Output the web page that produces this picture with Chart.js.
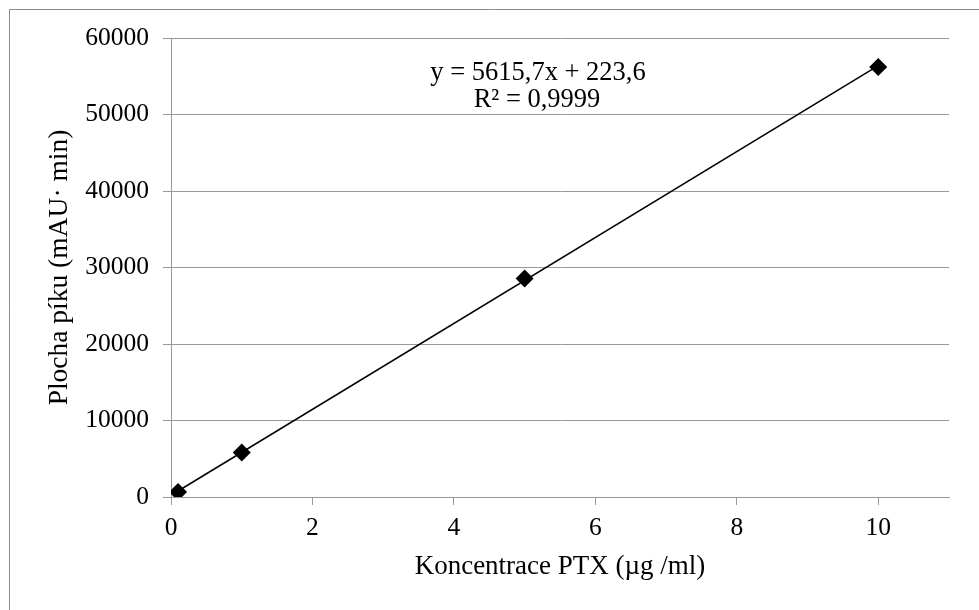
<!DOCTYPE html>
<html>
<head>
<meta charset="utf-8">
<title>Kalibrační křivka PTX</title>
<script src="https://cdn.jsdelivr.net/npm/chart.js@4.4.1/dist/chart.umd.min.js"></script>
<style>
  html, body { margin: 0; padding: 0; background: #fff; }
  canvas { display: block; }
</style>
</head>
<body>
<canvas id="chart" width="979" height="610"></canvas>
<script>
// calibration points: concentration (ug/ml) vs. peak area (mAU*min)
const concentrations = [0.1, 1, 5, 10];
const peakAreas = [650, 5830, 28550, 56200];

// linear trendline y = 5615,7x + 223,6, taken at the first and last concentration
const trendX = [0.1, 10];
const trendY = [785.2, 56380.6];

const equationLines = ['y = 5615,7x + 223,6', 'R² = 0,9999'];

const yTicks = [0, 10000, 20000, 30000, 40000, 50000, 60000];
const xTicks = [0, 2, 4, 6, 8, 10];

const FONT = "'Liberation Serif', 'Times New Roman', serif";
const GRID = '#999999';

// outer frame of the chart (top and left edges are the only ones visible)
const framePlugin = {
  id: 'frame',
  beforeDraw(chart) {
    const ctx = chart.ctx;
    ctx.save();
    ctx.fillStyle = '#fff';
    ctx.fillRect(0, 0, chart.width, chart.height);
    ctx.strokeStyle = '#8c8c8c';
    ctx.lineWidth = 1;
    ctx.beginPath();
    ctx.moveTo(9.5, chart.height);
    ctx.lineTo(9.5, 9.5);
    ctx.lineTo(chart.width, 9.5);
    ctx.stroke();
    ctx.restore();
  }
};

// regression equation label
const equationPlugin = {
  id: 'equation',
  afterDatasetsDraw(chart) {
    const ctx = chart.ctx;
    ctx.save();
    ctx.font = '26.5px ' + FONT;
    ctx.fillStyle = '#000';
    ctx.textAlign = 'center';
    ctx.textBaseline = 'alphabetic';
    ctx.fillText(equationLines[0], 538, 80);
    ctx.fillText(equationLines[1], 537, 107);
    ctx.restore();
  }
};

new Chart(document.getElementById('chart'), {
  type: 'scatter',
  data: {
    datasets: [
      {
        label: 'trend',
        data: trendX.map((x, i) => ({ x: x, y: trendY[i] })),
        showLine: true,
        borderColor: '#000',
        borderWidth: 1.5,
        pointRadius: 0,
        order: 2
      },
      {
        label: 'PTX',
        data: concentrations.map((x, i) => ({ x: x, y: peakAreas[i] })),
        pointStyle: 'rectRot',
        pointRadius: 9,
        backgroundColor: '#000',
        borderColor: '#000',
        borderWidth: 0,
        order: 1
      }
    ]
  },
  options: {
    responsive: false,
    animation: false,
    layout: { padding: { left: 0, top: 38, right: 30, bottom: 0 } },
    plugins: {
      legend: { display: false },
      tooltip: { enabled: false }
    },
    scales: {
      x: {
        type: 'linear',
        min: 0,
        max: 11,
        afterBuildTicks: scale => {
          scale.ticks = xTicks.map(v => ({ value: v }));
        },
        afterFit: scale => { scale.height = 113; },
        grid: { drawOnChartArea: false, color: GRID, tickLength: 8 },
        border: { display: true, color: GRID },
        ticks: {
          color: '#000',
          padding: 8,
          maxRotation: 0,
          font: { family: FONT, size: 25.5 },
          callback: v => String(v)
        },
        title: {
          display: true,
          text: 'Koncentrace PTX (µg /ml)',
          color: '#000',
          font: { family: FONT, size: 27 },
          padding: { top: 0, bottom: 27 }
        }
      },
      y: {
        type: 'linear',
        min: 0,
        max: 60000,
        afterBuildTicks: scale => {
          scale.ticks = yTicks.map(v => ({ value: v }));
        },
        afterFit: scale => { scale.width = 171; },
        grid: { color: GRID, tickLength: 8 },
        border: { display: true, color: GRID },
        ticks: {
          color: '#000',
          padding: 14,
          font: { family: FONT, size: 25.5 },
          callback: v => String(v)
        },
        title: {
          display: true,
          text: 'Plocha píku (mAU· min)',
          color: '#000',
          font: { family: FONT, size: 27.5 },
          padding: { top: 43, bottom: 0 }
        }
      }
    }
  },
  plugins: [framePlugin, equationPlugin]
});
</script>
</body>
</html>
